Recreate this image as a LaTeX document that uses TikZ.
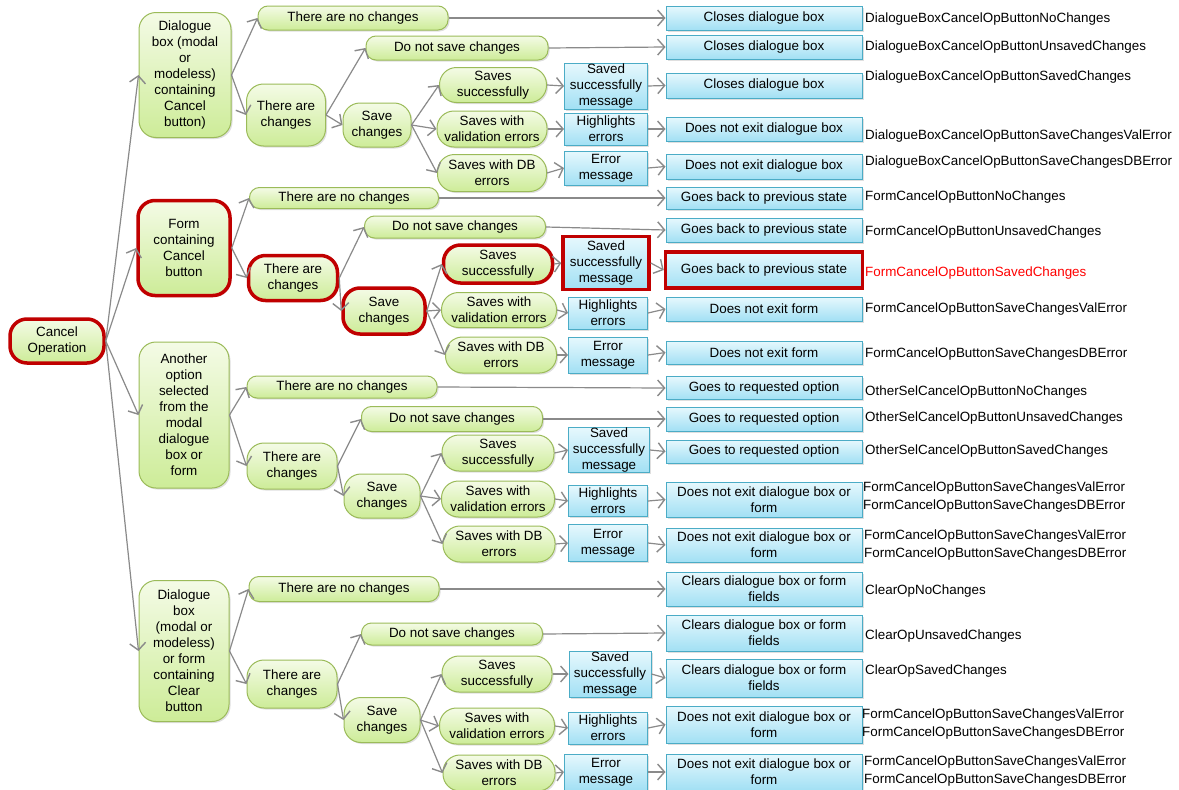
\documentclass[tikz,border=0pt]{standalone}
\usepackage{fontspec}
\setmainfont{Liberation Sans}
\usetikzlibrary{arrows.meta,shadows}
\definecolor{gborder}{HTML}{9BBB59}
\definecolor{gtop}{HTML}{F4FBE6}
\definecolor{gbot}{HTML}{CDEC98}
\definecolor{bborder}{HTML}{4BACC6}
\definecolor{btop}{HTML}{E6F8FD}
\definecolor{bbot}{HTML}{A2E0F4}
\definecolor{hred}{HTML}{C00000}
\definecolor{lred}{HTML}{FF0000}
\definecolor{lgray}{HTML}{8A8A8A}
\begin{document}
\begin{tikzpicture}[x=1pt,y=-1pt,
 font=\fontsize{13.4}{16}\selectfont,
 base/.style={align=center, inner sep=0pt, line width=1pt, drop shadow={shadow xshift=1.5pt,shadow yshift=-1.5pt,opacity=0.25}},
 gn/.style={base, draw=gborder, top color=gtop, bottom color=gbot, rounded corners=10pt},
 gbig/.style={gn, rounded corners=17pt},
 bn/.style={base, draw=bborder, top color=btop, bottom color=bbot},
 hl/.style={draw=hred, line width=3.5pt},
 lbl/.style={anchor=west, align=left, inner sep=0pt},
 arr/.style={draw=lgray, line width=1.2pt, -{Straight Barb[length=7pt,width=16pt,line width=1.4pt]}},
 sz/.style 2 args={minimum width=#1pt, minimum height=#2pt},
]
\useasboundingbox (0,0) rectangle (1179,790);
\fill[white] (0,0) rectangle (1179,790);

% root
\node[gbig, hl, sz={94}{44}] (root) at (57,341) {Cancel\\Operation};

% level 1
\node[gbig, sz={92}{125}] (a1) at (185,75) {Dialogue\\box (modal\\or\\modeless)\\containing\\Cancel\\button)};
\node[gbig, hl, sz={92}{95}] (a2) at (184,248) {Form\\containing\\Cancel\\button};
\node[gbig, sz={90}{146}] (a3) at (184,415) {Another\\option\\selected\\from the\\modal\\dialogue\\box or\\form};
\node[gbig, sz={90}{141}] (a4) at (184,651) {Dialogue\\box\\(modal or\\modeless)\\or form\\containing\\Clear\\button};

% ---------------- group 1
\node[gn, sz={190}{24}] (g1-n) at (353,18) {There are no changes};
\node[gbig, sz={79}{62}] (g1-c) at (286,115) {There are\\changes};
\node[gn, sz={182}{24}] (g1-d) at (457,48) {Do not save changes};
\node[gbig, sz={68}{44}] (g1-s) at (377,125) {Save\\changes};
\node[gbig, sz={107}{35}] (g1-ss) at (493,85) {Saves\\successfully};
\node[gbig, sz={110}{36}] (g1-sv) at (492,129) {Saves with\\validation errors};
\node[gbig, sz={109}{37}] (g1-sd) at (492,173) {Saves with DB\\errors};
\node[bn, sz={83}{46}] (g1-ms) at (606,86) {Saved\\successfully\\message};
\node[bn, sz={83}{32}] (g1-mv) at (606,129) {Highlights\\errors};
\node[bn, sz={83}{34}] (g1-md) at (606,168) {Error\\message};
\node[bn, sz={196}{24}] (g1-r1) at (764,18) {Closes dialogue box};
\node[bn, sz={196}{24}] (g1-r2) at (764,47) {Closes dialogue box};
\node[bn, sz={196}{25}] (g1-r3) at (764,85.5) {Closes dialogue box};
\node[bn, sz={196}{24}] (g1-r4) at (764,129) {Does not exit dialogue box};
\node[bn, sz={196}{25}] (g1-r5) at (764,166.5) {Does not exit dialogue box};
\node[lbl] (g1-l1) at (865,19) {DialogueBoxCancelOpButtonNoChanges};
\node[lbl] (g1-l2) at (865,47) {DialogueBoxCancelOpButtonUnsavedChanges};
\node[lbl] (g1-l3) at (865,77) {DialogueBoxCancelOpButtonSavedChanges};
\node[lbl] (g1-l4) at (865,136) {DialogueBoxCancelOpButtonSaveChangesValError};
\node[lbl] (g1-l5) at (865,162) {DialogueBoxCancelOpButtonSaveChangesDBError};

% ---------------- group 2
\node[gn, sz={189}{21}] (g2-n) at (344,198) {There are no changes};
\node[gbig, hl, sz={89}{45}] (g2-c) at (293,278) {There are\\changes};
\node[gn, sz={181}{22}] (g2-d) at (455,227) {Do not save changes};
\node[gbig, hl, sz={82}{46}] (g2-s) at (384,311) {Save\\changes};
\node[gbig, hl, sz={109}{38}] (g2-ss) at (498,264) {Saves\\successfully};
\node[gbig, sz={115}{35}] (g2-sv) at (499,310) {Saves with\\validation errors};
\node[gbig, sz={111}{36}] (g2-sd) at (501,355) {Saves with DB\\errors};
\node[bn, hl, sz={86}{53}] (g2-ms) at (606,263) {Saved\\successfully\\message};
\node[bn, sz={79}{32}] (g2-mv) at (608,313) {Highlights\\errors};
\node[bn, sz={79}{36}] (g2-md) at (608,355) {Error\\message};
\node[bn, sz={196}{22}] (g2-r1) at (764,198) {Goes back to previous state};
\node[bn, sz={196}{24}] (g2-r2) at (764,230) {Goes back to previous state};
\node[bn, hl, sz={197}{36}] (g2-r3) at (764,270) {Goes back to previous state};
\node[bn, sz={196}{24}] (g2-r4) at (764,309) {Does not exit form};
\node[bn, sz={196}{23}] (g2-r5) at (764,352.5) {Does not exit form};
\node[lbl] (g2-l1) at (865,197) {FormCancelOpButtonNoChanges};
\node[lbl] (g2-l2) at (865,232) {FormCancelOpButtonUnsavedChanges};
\node[lbl, text=lred] (g2-l3) at (865,273) {FormCancelOpButtonSavedChanges};
\node[lbl] (g2-l4) at (865,309) {FormCancelOpButtonSaveChangesValError};
\node[lbl] (g2-l5) at (865,354) {FormCancelOpButtonSaveChangesDBError};

% ---------------- group 3
\node[gn, sz={190}{22}] (g3-n) at (342,387) {There are no changes};
\node[gbig, sz={90}{46}] (g3-c) at (292,466) {There are\\changes};
\node[gn, sz={181}{25}] (g3-d) at (452,419) {Do not save changes};
\node[gbig, sz={76}{44}] (g3-s) at (382,496) {Save\\changes};
\node[gbig, sz={112}{36}] (g3-ss) at (498,453) {Saves\\successfully};
\node[gbig, sz={113}{36}] (g3-sv) at (498,499) {Saves with\\validation errors};
\node[gbig, sz={112}{36}] (g3-sd) at (499,544) {Saves with DB\\errors};
\node[bn, sz={81}{45}] (g3-ms) at (609,450) {Saved\\successfully\\message};
\node[bn, sz={79}{31}] (g3-mv) at (608,501) {Highlights\\errors};
\node[bn, sz={79}{37}] (g3-md) at (608,543) {Error\\message};
\node[bn, sz={196}{23}] (g3-r1) at (764,388) {Goes to requested option};
\node[bn, sz={196}{24}] (g3-r2) at (764,419) {Goes to requested option};
\node[bn, sz={196}{23}] (g3-r3) at (764,451.5) {Goes to requested option};
\node[bn, sz={196}{35}] (g3-r4) at (764,499.5) {Does not exit dialogue box or\\form};
\node[bn, sz={196}{34}] (g3-r5) at (764,545) {Does not exit dialogue box or\\form};
\node[lbl] (g3-l1) at (865,392) {OtherSelCancelOpButtonNoChanges};
\node[lbl] (g3-l2) at (865,418) {OtherSelCancelOpButtonUnsavedChanges};
\node[lbl] (g3-l3) at (865,451) {OtherSelCancelOpButtonSavedChanges};
\node[lbl, font=\fontsize{13.4}{18}\selectfont] (g3-l4) at (863,497) {FormCancelOpButtonSaveChangesValError\\FormCancelOpButtonSaveChangesDBError};
\node[lbl, font=\fontsize{13.4}{18}\selectfont] (g3-l5) at (864,545) {FormCancelOpButtonSaveChangesValError\\FormCancelOpButtonSaveChangesDBError};

% ---------------- group 4
\node[gn, sz={190}{25}] (g4-n) at (344,589) {There are no changes};
\node[gbig, sz={90}{48}] (g4-c) at (292,684) {There are\\changes};
\node[gn, sz={181}{22}] (g4-d) at (452,634) {Do not save changes};
\node[gbig, sz={76}{45}] (g4-s) at (382,720) {Save\\changes};
\node[gbig, sz={110}{36}] (g4-ss) at (497,674) {Saves\\successfully};
\node[gbig, sz={115}{36}] (g4-sv) at (497,726) {Saves with\\validation errors};
\node[gbig, sz={112}{36}] (g4-sd) at (499,773) {Saves with DB\\errors};
\node[bn, sz={82}{46}] (g4-ms) at (610,674) {Saved\\successfully\\message};
\node[bn, sz={79}{32}] (g4-mv) at (608,728) {Highlights\\errors};
\node[bn, sz={83}{36}] (g4-md) at (606,772) {Error\\message};
\node[bn, sz={196}{34}] (g4-r1) at (764,589) {Clears dialogue box or form\\fields};
\node[bn, sz={196}{36}] (g4-r2) at (764,633) {Clears dialogue box or form\\fields};
\node[bn, sz={196}{38}] (g4-r3) at (764,678) {Clears dialogue box or form\\fields};
\node[bn, sz={196}{37}] (g4-r4) at (764,724.5) {Does not exit dialogue box or\\form};
\node[bn, sz={196}{36}] (g4-r5) at (764,772) {Does not exit dialogue box or\\form};
\node[lbl] (g4-l1) at (865,591) {ClearOpNoChanges};
\node[lbl] (g4-l2) at (865,636) {ClearOpUnsavedChanges};
\node[lbl] (g4-l3) at (865,671) {ClearOpSavedChanges};
\node[lbl, font=\fontsize{13.4}{18}\selectfont] (g4-l4) at (862,724) {FormCancelOpButtonSaveChangesValError\\FormCancelOpButtonSaveChangesDBError};
\node[lbl, font=\fontsize{13.4}{18}\selectfont] (g4-l5) at (864,771) {FormCancelOpButtonSaveChangesValError\\FormCancelOpButtonSaveChangesDBError};

% connectors
\foreach \g in {1,2,3,4} {
  \draw[arr] (root.east) -- (a\g.west);
  \draw[arr] (a\g.east) -- (g\g-n.west);
  \draw[arr] (a\g.east) -- (g\g-c.west);
  \draw[arr] (g\g-n.east) -- (g\g-r1.west);
  \draw[arr] (g\g-c.east) -- (g\g-d.west);
  \draw[arr] (g\g-c.east) -- (g\g-s.west);
  \draw[arr] (g\g-d.east) -- (g\g-r2.west);
  \draw[arr] (g\g-s.east) -- (g\g-ss.west);
  \draw[arr] (g\g-s.east) -- (g\g-sv.west);
  \draw[arr] (g\g-s.east) -- (g\g-sd.west);
  \draw[arr] (g\g-ss.east) -- (g\g-ms.west);
  \draw[arr] (g\g-sv.east) -- (g\g-mv.west);
  \draw[arr] (g\g-sd.east) -- (g\g-md.west);
  \draw[arr] (g\g-ms.east) -- (g\g-r3.west);
  \draw[arr] (g\g-mv.east) -- (g\g-r4.west);
  \draw[arr] (g\g-md.east) -- (g\g-r5.west);
}
\end{tikzpicture}
\end{document}
